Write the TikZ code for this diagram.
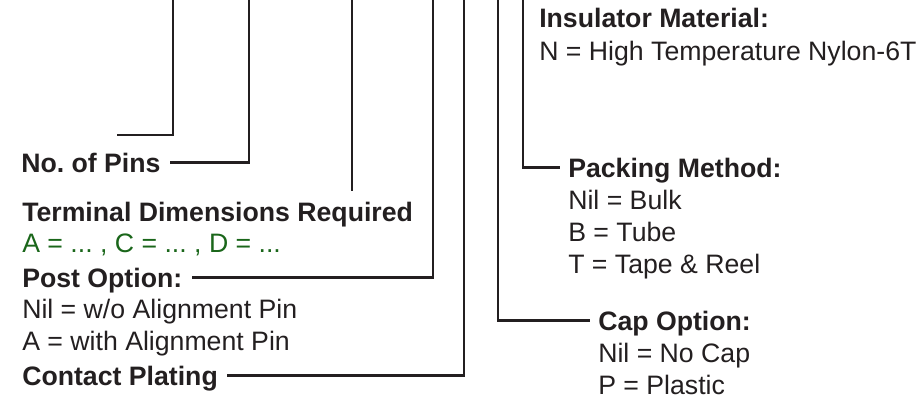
\documentclass[tikz,border=0pt]{standalone}
\usepackage{fontspec}
\setmainfont{Liberation Sans}
\usepackage{xcolor}
\definecolor{inkc}{HTML}{231F20}
\definecolor{dimc}{HTML}{1A661A}

\tikzset{
  lead/.style={draw=inkc, line width=1.6pt},
  head/.style={anchor=base west, inner sep=0pt, text=inkc,
    text height=14.3pt, text depth=0pt,
    font=\fontsize{20}{24}\selectfont\bfseries},
  opt/.style={anchor=base west, inner sep=0pt, text=inkc,
    text height=14.3pt, text depth=0pt,
    font=\fontsize{20}{24}\selectfont}
}

\begin{document}
\frenchspacing
\begin{tikzpicture}[x=0.75pt,y=-0.75pt]
  \useasboundingbox (0,0) rectangle (920,399);

  % ==========================================================
  %                     LEFT SIDE
  % ==========================================================
  \node[head] (pins)  at (21,172) {No. of Pins};
  \node[head] (term)  at (22,221) {Terminal Dimensions Required};
  \node[opt, text=dimc] (dims) at (22,252) {A = ... , C = ... , D = ...};
  \node[head] (post)  at (22,287) {Post Option:};
  \foreach \txt [count=\i] in {Nil = w/o Alignment Pin, A = with Alignment Pin}
    \node[opt] (post\i) at (22,287+\i*31.5) {\txt};
  \node[head] (plate) at (22,385) {Contact Plating};

  % ==========================================================
  %                     RIGHT SIDE
  % ==========================================================
  \node[head] (insul) at (539,28) {Insulator Material:};
  \node[opt]  (insul1) at (539,61) {N = High Temperature Nylon-6T};
  \node[head] (pack)  at (568,177) {Packing Method:};
  \foreach \txt [count=\i] in {Nil = Bulk, B = Tube, T = Tape \& Reel}
    \node[opt] (pack\i) at (568,177+\i*32) {\txt};
  \node[head] (cap)   at (598,330) {Cap Option:};
  \foreach \txt [count=\i] in {Nil = No Cap, P = Plastic}
    \node[opt] (cap\i) at (598,330+\i*32) {\txt};

  % ==========================================================
  %                     LEADER LINES
  % ==========================================================
  \coordinate (topA) at (173,0);
  \coordinate (topB) at (249,0);
  \coordinate (topC) at (352,0);
  \coordinate (topD) at (433,0);
  \coordinate (topE) at (464,0);
  \coordinate (topF) at (498,0);
  \coordinate (topG) at (523,0);
  \coordinate (endA) at (117,135);

  \draw[lead] (topA) |- (endA);
  \draw[lead] (topB) |- ([xshift=6.75pt]pins.east);
  \draw[lead] (topC) -- ([yshift=8pt]topC |- term.north);
  \draw[lead] (topD) |- ([xshift=6.75pt]post.east);
  \draw[lead] (topE) |- ([xshift=6.75pt]plate.east);
  \draw[lead] (topF) |- ([xshift=-6pt]cap.west);
  \draw[lead] (topG) |- ([xshift=-6pt]pack.west);
\end{tikzpicture}
\end{document}
